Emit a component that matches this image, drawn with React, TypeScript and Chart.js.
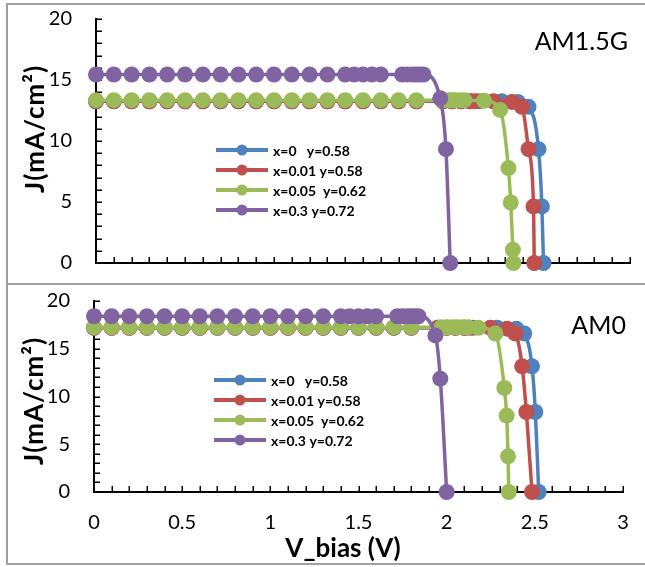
import React, { useEffect, useRef } from "react";
import { Chart, registerables } from "chart.js";

Chart.register(...registerables);

const FONT = "Lato, 'Open Sans', 'DejaVu Sans', sans-serif";

// ---------- data ----------
const SERIES_LABELS = ["x=0   y=0.58", "x=0.01 y=0.58", "x=0.05  y=0.62", "x=0.3 y=0.72"];
const SERIES_COLORS = ["#4F81BD", "#C0504D", "#9BBB59", "#8064A2"];
const X_TICK_LABELS = ["0", "0.5", "1", "1.5", "2", "2.5", "3"];
const Y_TICK_LABELS = ["0", "5", "10", "15", "20"];
const PANEL_NAMES = ["AM1.5G", "AM0"];
const X_TITLE = "V_bias (V)";
const Y_TITLE = "J(mA/cm²)";

// AM1.5G panel
const V_TOP_BLUE = [0, 0.1, 0.2, 0.3, 0.4, 0.5, 0.6, 0.7, 0.8, 0.9, 1, 1.1, 1.2, 1.3, 1.4, 1.5, 1.6, 1.7, 1.8, 1.95, 2.0, 2.05, 2.1, 2.15, 2.28, 2.37, 2.43, 2.486, 2.505, 2.514];
const J_TOP_BLUE = [13.25, 13.25, 13.25, 13.25, 13.25, 13.25, 13.25, 13.25, 13.25, 13.25, 13.25, 13.25, 13.25, 13.25, 13.25, 13.25, 13.25, 13.25, 13.25, 13.25, 13.25, 13.25, 13.25, 13.25, 13.25, 13.2, 12.8, 9.33, 4.64, 0];
const V_TOP_RED = [0, 0.1, 0.2, 0.3, 0.4, 0.5, 0.6, 0.7, 0.8, 0.9, 1, 1.1, 1.2, 1.3, 1.4, 1.5, 1.6, 1.7, 1.8, 1.95, 2.0, 2.05, 2.1, 2.13, 2.233, 2.336, 2.393, 2.43, 2.458, 2.462];
const J_TOP_RED = [13.25, 13.25, 13.25, 13.25, 13.25, 13.25, 13.25, 13.25, 13.25, 13.25, 13.25, 13.25, 13.25, 13.25, 13.25, 13.25, 13.25, 13.25, 13.25, 13.25, 13.25, 13.25, 13.25, 13.25, 13.25, 13.2, 12.8, 9.33, 4.64, 0];
const V_TOP_GREEN = [0, 0.1, 0.2, 0.3, 0.4, 0.5, 0.6, 0.7, 0.8, 0.9, 1, 1.1, 1.2, 1.3, 1.4, 1.5, 1.6, 1.7, 1.8, 1.95, 1.98, 2.0, 2.02, 2.05, 2.07, 2.18, 2.27, 2.317, 2.33, 2.342, 2.345];
const J_TOP_GREEN = [13.35, 13.35, 13.35, 13.35, 13.35, 13.35, 13.35, 13.35, 13.35, 13.35, 13.35, 13.35, 13.35, 13.35, 13.35, 13.35, 13.35, 13.35, 13.35, 13.35, 13.35, 13.35, 13.35, 13.35, 13.35, 13.3, 12.55, 7.78, 4.96, 1.09, 0];
const V_TOP_PURPLE = [0, 0.1, 0.2, 0.3, 0.4, 0.5, 0.6, 0.7, 0.8, 0.9, 1, 1.1, 1.2, 1.3, 1.4, 1.45, 1.5, 1.55, 1.6, 1.72, 1.75, 1.78, 1.8, 1.82, 1.84, 1.934, 1.966, 1.99];
const J_TOP_PURPLE = [15.45, 15.45, 15.45, 15.45, 15.45, 15.45, 15.45, 15.45, 15.45, 15.45, 15.45, 15.45, 15.45, 15.45, 15.45, 15.45, 15.45, 15.45, 15.45, 15.45, 15.45, 15.45, 15.45, 15.45, 15.45, 13.5, 9.33, 0];

// AM0 panel
const V_BOT_BLUE = [0, 0.1, 0.2, 0.3, 0.4, 0.5, 0.6, 0.7, 0.8, 0.9, 1, 1.1, 1.2, 1.3, 1.4, 1.5, 1.6, 1.7, 1.8, 1.95, 2.0, 2.05, 2.1, 2.15, 2.286, 2.395, 2.44, 2.484, 2.503, 2.522];
const J_BOT_BLUE = [17.2, 17.2, 17.2, 17.2, 17.2, 17.2, 17.2, 17.2, 17.2, 17.2, 17.2, 17.2, 17.2, 17.2, 17.2, 17.2, 17.2, 17.2, 17.2, 17.2, 17.2, 17.2, 17.2, 17.2, 17.2, 17.1, 16.6, 13.16, 8.38, 0];
const V_BOT_RED = [0, 0.1, 0.2, 0.3, 0.4, 0.5, 0.6, 0.7, 0.8, 0.9, 1, 1.1, 1.2, 1.3, 1.4, 1.5, 1.6, 1.7, 1.8, 1.95, 2.0, 2.05, 2.1, 2.13, 2.248, 2.343, 2.39, 2.428, 2.452, 2.484];
const J_BOT_RED = [17.2, 17.2, 17.2, 17.2, 17.2, 17.2, 17.2, 17.2, 17.2, 17.2, 17.2, 17.2, 17.2, 17.2, 17.2, 17.2, 17.2, 17.2, 17.2, 17.2, 17.2, 17.2, 17.2, 17.2, 17.2, 17.1, 16.6, 13.16, 8.38, 0];
const V_BOT_GREEN = [0, 0.1, 0.2, 0.3, 0.4, 0.5, 0.6, 0.7, 0.8, 0.9, 1, 1.1, 1.2, 1.3, 1.4, 1.5, 1.6, 1.7, 1.8, 1.97, 2.0, 2.03, 2.06, 2.09, 2.12, 2.18, 2.276, 2.327, 2.34, 2.348, 2.352];
const J_BOT_GREEN = [17.25, 17.25, 17.25, 17.25, 17.25, 17.25, 17.25, 17.25, 17.25, 17.25, 17.25, 17.25, 17.25, 17.25, 17.25, 17.25, 17.25, 17.25, 17.25, 17.25, 17.25, 17.25, 17.25, 17.25, 17.25, 17.2, 16.6, 10.9, 8.0, 3.74, 0];
const V_BOT_PURPLE = [0, 0.1, 0.2, 0.3, 0.4, 0.5, 0.6, 0.7, 0.8, 0.9, 1, 1.1, 1.2, 1.3, 1.4, 1.45, 1.5, 1.55, 1.6, 1.72, 1.75, 1.78, 1.8, 1.82, 1.84, 1.936, 1.964, 2.0];
const J_BOT_PURPLE = [18.4, 18.4, 18.4, 18.4, 18.4, 18.4, 18.4, 18.4, 18.4, 18.4, 18.4, 18.4, 18.4, 18.4, 18.4, 18.4, 18.4, 18.4, 18.4, 18.4, 18.4, 18.4, 18.4, 18.4, 18.4, 16.4, 11.87, 0];

// ---------- layout ----------
type PanelSpec = {
  v: number[][];
  j: number[][];
  name: string;
  canvasH: number;
  padTop: number;
  padRight: number;
  xAxisH: number;
  yAxisW: number;
  showXLabels: boolean;
  legend: { x: number; y: number };
  nameAt: { x: number; y: number };
  yTitleAt: { x: number; y: number };
  xTitleAt: { x: number; y: number } | null;
};

const TOP_PANEL: PanelSpec = {
  v: [V_TOP_BLUE, V_TOP_RED, V_TOP_GREEN, V_TOP_PURPLE],
  j: [J_TOP_BLUE, J_TOP_RED, J_TOP_GREEN, J_TOP_PURPLE],
  name: PANEL_NAMES[0],
  canvasH: 284,
  padTop: 19,
  padRight: 15,
  xAxisH: 21,
  yAxisW: 96,
  showXLabels: false,
  legend: { x: 216, y: 150 },
  nameAt: { x: 628, y: 42 },
  yTitleAt: { x: 36, y: 129 },
  xTitleAt: null,
};

const BOTTOM_PANEL: PanelSpec = {
  v: [V_BOT_BLUE, V_BOT_RED, V_BOT_GREEN, V_BOT_PURPLE],
  j: [J_BOT_BLUE, J_BOT_RED, J_BOT_GREEN, J_BOT_PURPLE],
  name: PANEL_NAMES[1],
  canvasH: 283,
  padTop: 17,
  padRight: 22,
  xAxisH: 75,
  yAxisW: 94,
  showXLabels: true,
  legend: { x: 214, y: 96 },
  nameAt: { x: 626, y: 42 },
  yTitleAt: { x: 35, y: 117 },
  xTitleAt: { x: 343, y: 265 },
};

const decorPlugin = {
  id: "panelDecor",
  beforeDatasetsDraw(chart: any) {
    const { ctx } = chart;
    const xs = chart.scales.x;
    const ys = chart.scales.y;
    ctx.save();
    ctx.strokeStyle = "#000";
    ctx.lineWidth = 1.5;
    // inward minor ticks on x (every 0.1 V)
    for (let i = 1; i <= 30; i++) {
      const px = Math.round(xs.getPixelForValue(i / 10)) + 0.25;
      ctx.beginPath();
      ctx.moveTo(px, ys.bottom);
      ctx.lineTo(px, ys.bottom - 6);
      ctx.stroke();
    }
    // inward minor ticks on y (every 1)
    for (let i = 0; i <= 20; i++) {
      const py = Math.round(ys.getPixelForValue(i)) + 0.25;
      ctx.beginPath();
      ctx.moveTo(xs.left, py);
      ctx.lineTo(xs.left + 6, py);
      ctx.stroke();
    }
    ctx.restore();
  },
  afterDatasetsDraw(chart: any, _args: any, opts: any) {
    const { ctx } = chart;
    ctx.save();
    // custom legend: line with marker
    const lg = opts.legend;
    chart.data.datasets.forEach((ds: any, i: number) => {
      const y = lg.y + i * 20;
      ctx.strokeStyle = ds.borderColor;
      ctx.lineWidth = 4;
      ctx.beginPath();
      ctx.moveTo(lg.x, y);
      ctx.lineTo(lg.x + 52, y);
      ctx.stroke();
      ctx.fillStyle = ds.borderColor;
      ctx.beginPath();
      ctx.arc(lg.x + 26, y, 5.5, 0, Math.PI * 2);
      ctx.fill();
      ctx.fillStyle = "#000";
      ctx.font = `bold 14px ${FONT}`;
      ctx.textAlign = "left";
      ctx.textBaseline = "middle";
      ctx.fillText(ds.label, lg.x + 57, y + 1);
    });
    // panel name
    ctx.fillStyle = "#000";
    ctx.font = `25px ${FONT}`;
    ctx.textAlign = "right";
    ctx.textBaseline = "middle";
    ctx.fillText(opts.name, opts.nameAt.x, opts.nameAt.y);
    // axis titles
    ctx.font = `bold 26px ${FONT}`;
    ctx.textAlign = "center";
    ctx.save();
    ctx.translate(opts.yTitleAt.x, opts.yTitleAt.y);
    ctx.rotate(-Math.PI / 2);
    (ctx as any).letterSpacing = "1px";
    ctx.fillText(Y_TITLE, 0, 0);
    ctx.restore();
    if (opts.xTitleAt) {
      ctx.fillText(X_TITLE, opts.xTitleAt.x, opts.xTitleAt.y);
    }
    ctx.restore();
  },
};

function makeConfig(p: PanelSpec): any {
  const datasets = SERIES_LABELS.map((label, i) => ({
    label,
    data: p.v[i].map((v, k) => ({ x: v, y: p.j[i][k] })),
    borderColor: SERIES_COLORS[i],
    backgroundColor: SERIES_COLORS[i],
    pointBackgroundColor: SERIES_COLORS[i],
    pointBorderColor: SERIES_COLORS[i],
    pointRadius: 8,
    pointBorderWidth: 0,
    borderWidth: 3.5,
    showLine: true,
    cubicInterpolationMode: "monotone",
    order: 3 - i,
    clip: false,
  }));
  return {
    type: "scatter",
    data: { datasets },
    plugins: [decorPlugin],
    options: {
      responsive: false,
      animation: false,
      events: [],
      layout: { autoPadding: false, padding: { left: 0, top: p.padTop, right: p.padRight, bottom: 0 } },
      plugins: {
        legend: { display: false },
        tooltip: { enabled: false },
        panelDecor: {
          legend: p.legend,
          name: p.name,
          nameAt: p.nameAt,
          yTitleAt: p.yTitleAt,
          xTitleAt: p.xTitleAt,
        },
      },
      scales: {
        x: {
          type: "linear",
          position: "bottom",
          min: 0,
          max: 3,
          ticks: {
            display: p.showXLabels,
            stepSize: 0.5,
            padding: 19,
            color: "#000",
            maxRotation: 0,
            autoSkip: false,
            font: { size: 20, family: FONT },
            callback: (_v: any, idx: number) => X_TICK_LABELS[idx],
          },
          grid: { display: true, drawOnChartArea: false, drawTicks: false, color: "rgba(0,0,0,0)" },
          border: { display: true, color: "#000", width: 2 },
          afterFit: (s: any) => {
            s.height = p.xAxisH;
            s.paddingLeft = 0;
            s.paddingRight = 0;
          },
        },
        y: {
          type: "linear",
          min: 0,
          max: 20,
          ticks: {
            stepSize: 5,
            padding: 24,
            color: "#000",
            font: { size: 20, family: FONT },
            callback: (_v: any, idx: number) => Y_TICK_LABELS[idx],
          },
          grid: { display: true, drawOnChartArea: false, drawTicks: false, color: "rgba(0,0,0,0)" },
          border: { display: true, color: "#000", width: 2 },
          afterFit: (s: any) => {
            s.width = p.yAxisW;
            s.paddingTop = 0;
            s.paddingBottom = 0;
          },
        },
      },
    },
  };
}

const GRAY = "#a0a0a0";

export default function App() {
  const topRef = useRef<HTMLCanvasElement>(null);
  const botRef = useRef<HTMLCanvasElement>(null);
  useEffect(() => {
    const c1 = new Chart(topRef.current!, makeConfig(TOP_PANEL));
    const c2 = new Chart(botRef.current!, makeConfig(BOTTOM_PANEL));
    return () => {
      c1.destroy();
      c2.destroy();
    };
  }, []);
  return (
    <div style={{ position: "absolute", left: 0, top: 0, width: 645, height: 567, overflow: "hidden", background: "#fff" }}>
      <div style={{ position: "absolute", left: 6, top: 3, width: 2, height: 562, background: GRAY }} />
      <div style={{ position: "absolute", left: 6, top: 3, width: 639, height: 2, background: GRAY }} />
      <div style={{ position: "absolute", left: 6, top: 283, width: 639, height: 2, background: GRAY }} />
      <div style={{ position: "absolute", left: 6, top: 563, width: 639, height: 2, background: GRAY }} />
      <canvas ref={topRef} width={645} height={284} style={{ position: "absolute", left: 0, top: 0, width: 645, height: 284 }} />
      <canvas ref={botRef} width={645} height={283} style={{ position: "absolute", left: 0, top: 284, width: 645, height: 283 }} />
    </div>
  );
}
